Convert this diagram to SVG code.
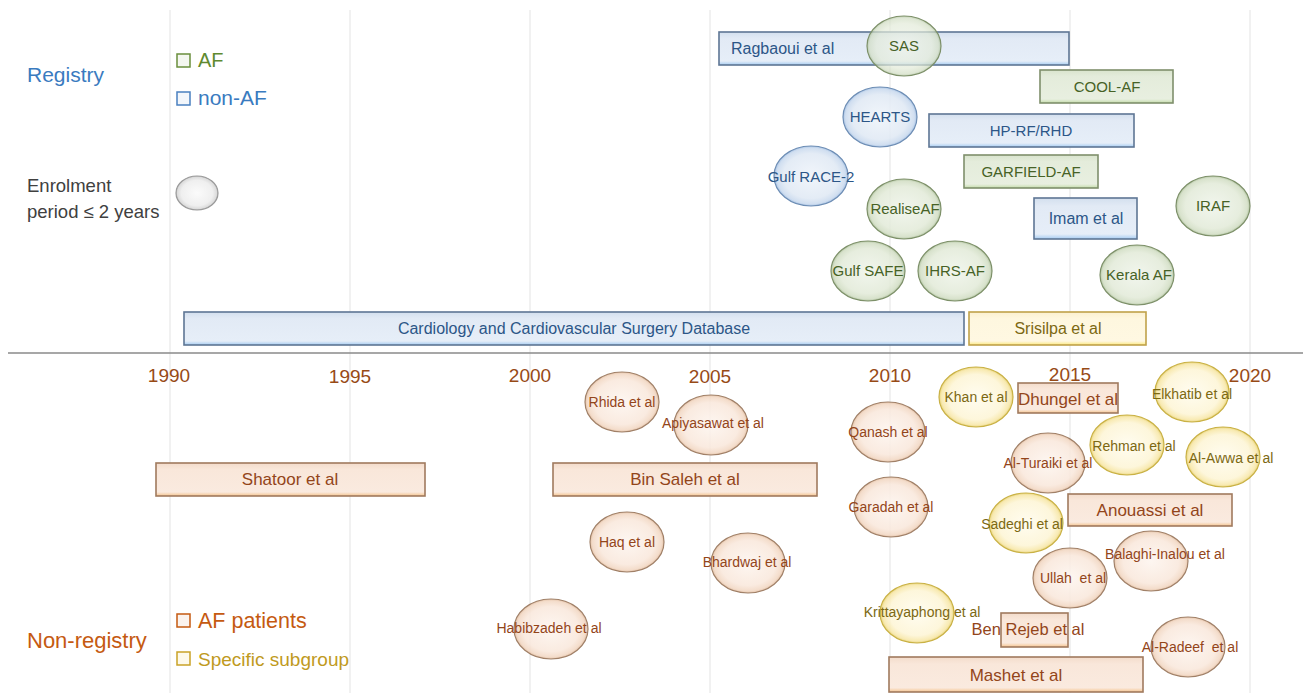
<svg xmlns="http://www.w3.org/2000/svg" width="1303" height="693" viewBox="0 0 1303 693">
<defs>
<radialGradient id="gPe" cx="50%" cy="50%" r="50%"><stop offset="0" stop-color="#fdf5ef"/><stop offset="0.75" stop-color="#f9e8dc"/><stop offset="0.93" stop-color="#f2d8c4"/><stop offset="1" stop-color="#e2bc9e"/></radialGradient>
<radialGradient id="gYe" cx="50%" cy="50%" r="50%"><stop offset="0" stop-color="#fffcee"/><stop offset="0.75" stop-color="#fdf5d6"/><stop offset="0.93" stop-color="#f7e7a8"/><stop offset="1" stop-color="#e6cf6c"/></radialGradient>
<radialGradient id="gGe" cx="50%" cy="50%" r="50%"><stop offset="0" stop-color="#eff4ea"/><stop offset="0.75" stop-color="#e2eAd8"/><stop offset="0.93" stop-color="#d1ddc3"/><stop offset="1" stop-color="#a9bd96"/></radialGradient>
<radialGradient id="gBe" cx="50%" cy="50%" r="50%"><stop offset="0" stop-color="#eff4fa"/><stop offset="0.75" stop-color="#e0e9f4"/><stop offset="0.93" stop-color="#cadaee"/><stop offset="1" stop-color="#9fbde2"/></radialGradient>
<radialGradient id="gGr" cx="50%" cy="50%" r="50%"><stop offset="0" stop-color="#fbfbfb"/><stop offset="0.75" stop-color="#efefef"/><stop offset="0.93" stop-color="#dcdcdc"/><stop offset="1" stop-color="#b8b8b8"/></radialGradient>
<linearGradient id="rB" x1="0" y1="0" x2="0" y2="1"><stop offset="0" stop-color="#d3dfee"/><stop offset="0.2" stop-color="#e2eaf5"/><stop offset="0.88" stop-color="#e6eef8"/><stop offset="1" stop-color="#a6ccf2"/></linearGradient>
<linearGradient id="rG" x1="0" y1="0" x2="0" y2="1"><stop offset="0" stop-color="#d9e4cd"/><stop offset="0.2" stop-color="#e4ecdb"/><stop offset="0.88" stop-color="#e8efe0"/><stop offset="1" stop-color="#c4dcaa"/></linearGradient>
<linearGradient id="rP" x1="0" y1="0" x2="0" y2="1"><stop offset="0" stop-color="#f3dccb"/><stop offset="0.2" stop-color="#f9e7da"/><stop offset="0.88" stop-color="#faeadf"/><stop offset="1" stop-color="#f5c48e"/></linearGradient>
<linearGradient id="rY" x1="0" y1="0" x2="0" y2="1"><stop offset="0" stop-color="#fbf0cf"/><stop offset="0.2" stop-color="#fef7df"/><stop offset="0.88" stop-color="#fff8e2"/><stop offset="1" stop-color="#fbe982"/></linearGradient>
</defs>
<style>
text{font-family:"Liberation Sans",Arial,sans-serif}
.grid{stroke:#e8e8e8;stroke-width:1.2}
.axis{stroke:#8a8a8a;stroke-width:1.6}
.yr{font-size:19px;fill:#974a16;text-anchor:middle}
.eP{fill:url(#gPe);stroke:#a08068;stroke-width:1.2;fill-opacity:0.88}
.eY{fill:url(#gYe);stroke:#c9b145;stroke-width:1.2;fill-opacity:0.88}
.eG{fill:url(#gGe);stroke:#7d9069;stroke-width:1.2;fill-opacity:0.85}
.eB{fill:url(#gBe);stroke:#6d8db4;stroke-width:1.2;fill-opacity:0.88}
.eGr{fill:url(#gGr);stroke:#9a9a9a;stroke-width:1.2}
.rB{fill:url(#rB);stroke:#5e7694;stroke-width:1.6}
.rG{fill:url(#rG);stroke:#7f8f6c;stroke-width:1.6}
.rP{fill:url(#rP);stroke:#a07a5e;stroke-width:1.6}
.rY{fill:url(#rY);stroke:#c0a24a;stroke-width:1.6}
.tB{fill:#2c5687;text-anchor:middle;font-size:15px}
.tG{fill:#466226;text-anchor:middle;font-size:15px}
.tP{fill:#93451a;text-anchor:middle;font-size:14px}
.tY{fill:#7c6812;text-anchor:middle;font-size:14px}
.tPr{fill:#93451a;text-anchor:middle;font-size:17px}
.tYr{fill:#7c6812;text-anchor:middle;font-size:16px}
</style>
<rect width="1303" height="693" fill="#ffffff"/>
<g id="grid">
<line class="grid" x1="170" y1="10" x2="170" y2="693"/>
<line class="grid" x1="350" y1="10" x2="350" y2="693"/>
<line class="grid" x1="530" y1="10" x2="530" y2="693"/>
<line class="grid" x1="710" y1="10" x2="710" y2="693"/>
<line class="grid" x1="890" y1="10" x2="890" y2="693"/>
<line class="grid" x1="1070" y1="10" x2="1070" y2="693"/>
<line class="grid" x1="1250" y1="10" x2="1250" y2="693"/>
<line class="axis" x1="8" y1="353" x2="1303" y2="353"/>
<text class="yr" x="169" y="382">1990</text>
<text class="yr" x="350" y="383">1995</text>
<text class="yr" x="530" y="382">2000</text>
<text class="yr" x="710" y="383">2005</text>
<text class="yr" x="890" y="382">2010</text>
<text class="yr" x="1070" y="381">2015</text>
<text class="yr" x="1250" y="382">2020</text>
</g>
<g id="legend">
<text x="27" y="82" font-size="21" fill="#3a7bbf">Registry</text>
<rect x="177" y="54" width="13" height="13" fill="#f4f7f0" stroke="#6a8f3c" stroke-width="1.5"/>
<text x="198" y="67" font-size="20" fill="#5f8a30">AF</text>
<rect x="177" y="92" width="13" height="13" fill="#f2f6fb" stroke="#4a80c0" stroke-width="1.5"/>
<text x="198" y="105" font-size="21" fill="#3a7bbf">non-AF</text>
<text x="27" y="192" font-size="18.5" fill="#404040">Enrolment</text>
<text x="27" y="218" font-size="18.5" fill="#404040">period ≤ 2 years</text>
<ellipse class="eGr" cx="197" cy="193" rx="21" ry="17"/>
<text x="27" y="648" font-size="22" fill="#c55a11">Non-registry</text>
<rect x="177" y="614" width="13" height="13" fill="#fbf3ee" stroke="#c55a11" stroke-width="1.5"/>
<text x="198" y="628" font-size="21.5" fill="#c55a11">AF patients</text>
<rect x="177" y="652" width="13" height="13" fill="#fdf9ea" stroke="#c9a227" stroke-width="1.5"/>
<text x="198" y="666" font-size="19" fill="#c09a1e">Specific subgroup</text>
</g>
<g id="connectors"/>
<g id="n-ragbaoui"><rect class="rB" x="719" y="32" width="350" height="33"/><text class="tB" x="731" y="54" style="text-anchor:start;font-size:16px">Ragbaoui et al</text></g>
<g id="n-sas"><ellipse class="eG" cx="904" cy="46" rx="37" ry="30" style="fill-opacity:0.7"/><text class="tG" x="904" y="51">SAS</text></g>
<g id="n-coolaf"><rect class="rG" x="1040" y="70" width="133" height="33"/><text class="tG" x="1107" y="92">COOL-AF</text></g>
<g id="n-hearts"><ellipse class="eB" cx="880" cy="117" rx="37" ry="30"/><text class="tB" x="880" y="122">HEARTS</text></g>
<g id="n-hprf"><rect class="rB" x="929" y="114" width="205" height="33"/><text class="tB" x="1031" y="136">HP-RF/RHD</text></g>
<g id="n-gulfrace"><ellipse class="eB" cx="811" cy="176" rx="37" ry="30"/><text class="tB" x="811" y="182">Gulf RACE-2</text></g>
<g id="n-garfield"><rect class="rG" x="964" y="155" width="134" height="33"/><text class="tG" x="1031" y="177">GARFIELD-AF</text></g>
<g id="n-realiseaf"><ellipse class="eG" cx="904" cy="209" rx="37" ry="30"/><text class="tG" x="905" y="214">RealiseAF</text></g>
<g id="n-imam"><rect class="rB" x="1034" y="198" width="103" height="41"/><text class="tB" x="1086" y="224" style="font-size:16px">Imam et al</text></g>
<g id="n-iraf"><ellipse class="eG" cx="1213" cy="206" rx="37" ry="30"/><text class="tG" x="1213" y="211">IRAF</text></g>
<g id="n-gulfsafe"><ellipse class="eG" cx="868" cy="271" rx="37" ry="30"/><text class="tG" x="868" y="276">Gulf SAFE</text></g>
<g id="n-ihrsaf"><ellipse class="eG" cx="955" cy="271" rx="37" ry="30"/><text class="tG" x="955" y="276">IHRS-AF</text></g>
<g id="n-keralaaf"><ellipse class="eG" cx="1137" cy="275" rx="37" ry="30"/><text class="tG" x="1139" y="280">Kerala AF</text></g>
<g id="n-cardiology"><rect class="rB" x="184" y="312" width="780" height="33"/><text class="tB" x="574" y="334" style="font-size:16px">Cardiology and Cardiovascular Surgery Database</text></g>
<g id="n-srisilpa"><rect class="rY" x="969" y="312" width="177" height="33"/><text class="tYr" x="1058" y="334">Srisilpa et al</text></g>
<g id="n-shatoor"><rect class="rP" x="156" y="463" width="269" height="33"/><text class="tPr" x="290" y="485">Shatoor et al</text></g>
<g id="n-binsaleh"><rect class="rP" x="553" y="463" width="264" height="33"/><text class="tPr" x="685" y="485">Bin Saleh et al</text></g>
<g id="n-rhida"><ellipse class="eP" cx="622" cy="402" rx="37" ry="30"/><text class="tP" x="622" y="407">Rhida et al</text></g>
<g id="n-apiyasawat"><ellipse class="eP" cx="711" cy="425" rx="37" ry="30"/><text class="tP" x="713" y="428">Apiyasawat et al</text></g>
<g id="n-haq"><ellipse class="eP" cx="627" cy="542" rx="37" ry="30"/><text class="tP" x="627" y="547">Haq et al</text></g>
<g id="n-bhardwaj"><ellipse class="eP" cx="748" cy="563" rx="37" ry="30"/><text class="tP" x="747" y="567">Bhardwaj et al</text></g>
<g id="n-habibzadeh"><ellipse class="eP" cx="551" cy="629" rx="37" ry="30"/><text class="tP" x="549" y="633">Habibzadeh et al</text></g>
<g id="n-qanash"><ellipse class="eP" cx="888" cy="432" rx="37" ry="30"/><text class="tP" x="888" y="437">Qanash et al</text></g>
<g id="n-garadah"><ellipse class="eP" cx="891" cy="507" rx="37" ry="30"/><text class="tP" x="891" y="512">Garadah et al</text></g>
<g id="n-khan"><ellipse class="eY" cx="976" cy="397" rx="37" ry="30"/><text class="tY" x="976" y="402">Khan et al</text></g>
<g id="n-dhungel"><rect class="rP" x="1018" y="383" width="100" height="30"/><text class="tPr" x="1068" y="405">Dhungel et al</text></g>
<g id="n-elkhatib"><ellipse class="eY" cx="1192" cy="392" rx="37" ry="30"/><text class="tY" x="1192" y="399">Elkhatib et al</text></g>
<g id="n-rehman"><ellipse class="eY" cx="1127" cy="445" rx="37" ry="30"/><text class="tY" x="1134" y="451">Rehman et al</text></g>
<g id="n-alawwa"><ellipse class="eY" cx="1223" cy="457" rx="37" ry="30"/><text class="tY" x="1231" y="463">Al-Awwa et al</text></g>
<g id="n-alturaiki"><ellipse class="eP" cx="1048" cy="463" rx="37" ry="30"/><text class="tP" x="1048" y="468">Al-Turaiki et al</text></g>
<g id="n-anouassi"><rect class="rP" x="1068" y="494" width="164" height="32"/><text class="tPr" x="1150" y="516">Anouassi et al</text></g>
<g id="n-sadeghi"><ellipse class="eY" cx="1026" cy="523" rx="37" ry="30"/><text class="tY" x="1022" y="529">Sadeghi et al</text></g>
<g id="n-balaghi"><ellipse class="eP" cx="1151" cy="561" rx="37" ry="30"/><text class="tP" x="1165" y="559">Balaghi-Inalou et al</text></g>
<g id="n-ullah"><ellipse class="eP" cx="1070" cy="578" rx="37" ry="30"/><text class="tP" x="1073" y="583" xml:space="preserve">Ullah  et al</text></g>
<g id="n-krittayaphong"><ellipse class="eY" cx="917" cy="613" rx="37" ry="30"/><text class="tY" x="922" y="617">Krittayaphong et al</text></g>
<g id="n-benrejeb"><rect class="rP" x="1001" y="613" width="67" height="34"/><text class="tPr" x="1028" y="635" style="font-size:16.5px">Ben Rejeb et al</text></g>
<g id="n-alradeef"><ellipse class="eP" cx="1188" cy="647" rx="37" ry="30"/><text class="tP" x="1190" y="652" xml:space="preserve">Al-Radeef  et al</text></g>
<g id="n-mashet"><rect class="rP" x="889" y="657" width="254" height="35"/><text class="tPr" x="1016" y="681">Mashet et al</text></g>
</svg>
